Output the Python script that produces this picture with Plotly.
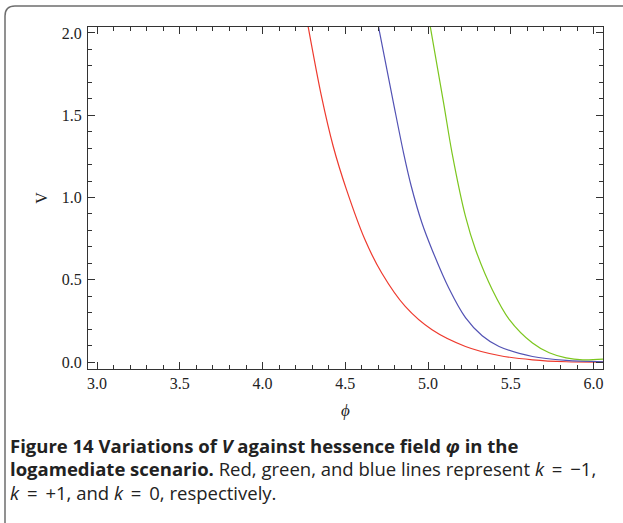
import plotly.graph_objects as go

# values (phi, V)
red_phi = [4.275, 4.356, 4.427, 4.507, 4.619, 4.72, 4.862, 5.024, 5.226, 5.429, 5.631, 5.834, 6.057]
red_v = [2.04, 1.614, 1.31, 1.048, 0.743, 0.541, 0.338, 0.196, 0.095, 0.040, 0.014, 0.002, 0.0]

blue_phi = [4.70, 4.791, 4.852, 4.898, 4.963, 5.024, 5.125, 5.226, 5.327, 5.429, 5.631, 5.834, 6.057]
blue_v = [2.04, 1.574, 1.27, 1.07, 0.845, 0.683, 0.45, 0.27, 0.16, 0.095, 0.034, 0.010, 0.002]

green_phi = [5.013, 5.094, 5.145, 5.226, 5.287, 5.388, 5.49, 5.631, 5.732, 5.834, 5.935, 6.057]
green_v = [2.04, 1.574, 1.27, 0.885, 0.683, 0.44, 0.26, 0.116, 0.057, 0.026, 0.014, 0.018]

W, H = 623, 523
ML, MR, MT, MB = 88, 20, 27, 154
PW, PH = W - ML - MR, H - MT - MB


def px_x(px):
    return (px - ML) / PW


def px_y(py):
    return (H - MB - py) / PH


fig = go.Figure()
for xs, ys, col in [(red_phi, red_v, "#ee3a2e"),
                    (blue_phi, blue_v, "#5252b4"),
                    (green_phi, green_v, "#7cc61e")]:
    fig.add_trace(go.Scatter(
        x=xs, y=ys, mode="lines",
        line=dict(color=col, width=1.2, shape="spline", smoothing=0.9),
        showlegend=False, hoverinfo="skip",
    ))

serif = "Liberation Serif, Times New Roman, serif"
axis_common = dict(
    showgrid=False, zeroline=False,
    showline=True, linecolor="#333", linewidth=1,
    mirror="ticks", ticks="inside", ticklen=7, tickcolor="#333", tickwidth=1,
    minor=dict(ticks="inside", ticklen=4, tickcolor="#333", dtick=0.1),
    tickformat=".1f",
    tickfont=dict(family=serif, size=16, color="#222"),
)

fig.update_xaxes(
    range=[2.945, 6.057], tick0=3.0, dtick=0.5,
    title=dict(text="<i>ϕ</i>", font=dict(family=serif, size=17, color="#222"),
               standoff=12),
    **axis_common,
)
fig.update_yaxes(
    range=[-0.042, 2.036], tick0=0.0, dtick=0.5,
    title=dict(text="V", font=dict(family=serif, size=16, color="#222"),
               standoff=10),
    ticklabelstandoff=2,
    **axis_common,
)

# card border (rounded top-left corner)
xl, yt = px_x(5), px_y(6)
rx, ry = 10 / PW, 10 / PH
fig.add_shape(
    type="path", xref="paper", yref="paper",
    path=f"M {xl},{px_y(560)} L {xl},{yt - ry} Q {xl},{yt} {xl + rx},{yt} L {px_x(660)},{yt}",
    line=dict(color="#6e6e6e", width=1.5),
)

sp = " \u2009"  # a bit wider than a plain space round "="
cap_font = dict(family="Open Sans", size=18.5, color="#222")
caption = [
    (445, "<b>Figure 14 Variations of <i>V</i> against hessence field <i>φ</i> in the</b>"),
    (469, f"<b>logamediate scenario.</b> Red, green, and blue lines represent <i>k</i>{sp}={sp}−1,"),
    (492, f"<i>k</i>{sp}={sp}+1, and <i>k</i>{sp}={sp}0, respectively."),
]
for py, txt in caption:
    fig.add_annotation(
        text=txt, xref="paper", yref="paper", x=px_x(8), y=px_y(py),
        xanchor="left", yanchor="middle", showarrow=False, font=cap_font,
    )

fig.update_layout(
    width=W, height=H,
    margin=dict(l=ML, r=MR, t=MT, b=MB),
    plot_bgcolor="white", paper_bgcolor="white",
)

fig.write_html("out.html", config={"displayModeBar": False},
               post_script="document.body.style.margin='0';")
